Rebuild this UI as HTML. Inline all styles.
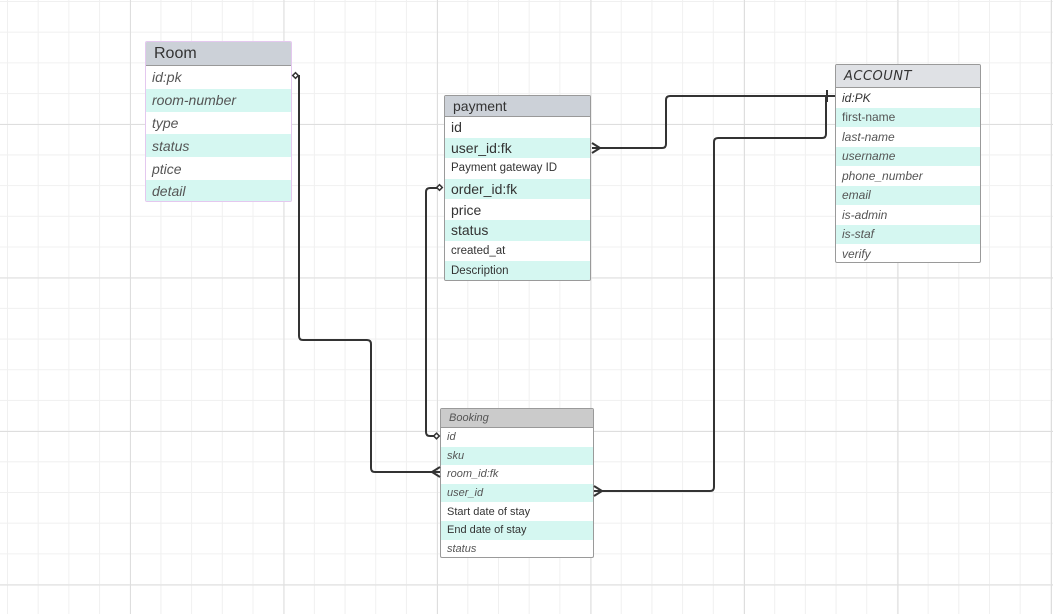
<!DOCTYPE html>
<html><head><meta charset="utf-8"><style>
html,body{margin:0;padding:0}
body{width:1053px;height:614px;position:relative;overflow:hidden;font-family:"Liberation Sans",sans-serif;color:#333;
background-color:#fff;
background-image:linear-gradient(#dedede 1px,transparent 1px),linear-gradient(90deg,#dedede 1px,transparent 1px),linear-gradient(#f0f0f0 1px,transparent 1px),linear-gradient(90deg,#f0f0f0 1px,transparent 1px);
background-size:153.5px 153.5px,153.5px 153.5px,30.7px 30.7px,30.7px 30.7px;
background-position:0 124px,130px 0,0 1px,7px 0;}
.t{position:absolute;border:1px solid #9a9a9a;border-radius:2px;background:#fff;box-sizing:border-box;overflow:hidden}
.h{background:#ccd1d8;border-bottom:1px solid #999;box-sizing:border-box;padding-left:8px;display:flex;align-items:center}
.r{box-sizing:border-box;padding-left:6px;display:flex;align-items:center;white-space:nowrap}
.r:nth-child(odd){background:#d5f7f1}
.i{font-style:italic}
svg{position:absolute;left:0;top:0}
</style></head><body>

<div class="t" style="left:145px;top:41px;width:147px;height:161px;border-color:#e4c8ef">
<div class="h" style="height:24px;font-size:16px">Room</div>
<div class="r i" style="height:22.8px;font-size:14px;color:#555">id:pk</div>
<div class="r i" style="height:22.8px;font-size:14px;color:#555">room-number</div>
<div class="r i" style="height:22.8px;font-size:14px;color:#555">type</div>
<div class="r i" style="height:22.8px;font-size:14px;color:#555">status</div>
<div class="r i" style="height:22.8px;font-size:14px;color:#555">ptice</div>
<div class="r i" style="height:22.8px;font-size:14px;color:#555">detail</div>
</div>

<div class="t" style="left:444px;top:95px;width:147px;height:186px">
<div class="h" style="height:21px;font-size:14px">payment</div>
<div class="r" style="height:20.6px;font-size:14px">id</div>
<div class="r" style="height:20.6px;font-size:14px">user_id:fk</div>
<div class="r" style="height:20.6px;font-size:11.5px">Payment gateway ID</div>
<div class="r" style="height:20.6px;font-size:14px">order_id:fk</div>
<div class="r" style="height:20.6px;font-size:14px">price</div>
<div class="r" style="height:20.6px;font-size:14px">status</div>
<div class="r" style="height:20.6px;font-size:11.5px">created_at</div>
<div class="r" style="height:20.6px;font-size:11.5px">Description</div>
</div>

<div class="t" style="left:835px;top:64px;width:146px;height:199px">
<div class="h" style="height:23px;font-size:13px;font-style:italic;font-family:'DejaVu Sans',sans-serif;letter-spacing:0.5px;background:#dfe1e5">ACCOUNT</div>
<div class="r i" style="height:19.5px;font-size:12px;color:#333">id:PK</div>
<div class="r" style="height:19.5px;font-size:12px;color:#555">first-name</div>
<div class="r i" style="height:19.5px;font-size:12px;color:#555">last-name</div>
<div class="r i" style="height:19.5px;font-size:12px;color:#555">username</div>
<div class="r i" style="height:19.5px;font-size:12px;color:#555">phone_number</div>
<div class="r i" style="height:19.5px;font-size:12px;color:#555">email</div>
<div class="r i" style="height:19.5px;font-size:12px;color:#555">is-admin</div>
<div class="r i" style="height:19.5px;font-size:12px;color:#555">is-staf</div>
<div class="r i" style="height:19.5px;font-size:12px;color:#555">verify</div>
</div>

<div class="t" style="left:440px;top:408px;width:154px;height:150px">
<div class="h" style="height:19px;font-size:11px;font-style:italic;color:#555;background:#cbcbcb">Booking</div>
<div class="r i" style="height:18.6px;font-size:11px;color:#555">id</div>
<div class="r i" style="height:18.6px;font-size:11px;color:#555">sku</div>
<div class="r i" style="height:18.6px;font-size:11px;color:#555">room_id:fk</div>
<div class="r i" style="height:18.6px;font-size:11px;color:#555">user_id</div>
<div class="r" style="height:18.6px;font-size:11px">Start date of stay</div>
<div class="r" style="height:18.6px;font-size:11px">End date of stay</div>
<div class="r i" style="height:18.6px;font-size:11px;color:#555">status</div>
</div>

<svg width="1053" height="614" fill="none" stroke="#333" stroke-width="2">
<path d="M296 76 H299 V336 Q299 340 303 340 H367 Q371 340 371 344 V468 Q371 472 375 472 H440"/>
<path d="M440 467 L432 472 L440 477"/>
<path d="M440 188 H430 Q426 188 426 192 V432 Q426 436 430 436 H436"/>
<path d="M592 148 H662 Q666 148 666 144 V100 Q666 96 670 96 H835"/>
<path d="M592 143 L600 148 L592 153"/>
<path d="M827 90 V102"/>
<path d="M594 491 H710 Q714 491 714 487 V142 Q714 138 718 138 H822 Q826 138 826 134 V96"/>
<path d="M594 486 L602 491 L594 496"/>
<rect x="293.5" y="73.5" width="4" height="4" transform="rotate(45 295.5 75.5)" fill="#fff" stroke-width="1.5"/>
<rect x="437.5" y="185.5" width="4" height="4" transform="rotate(45 439.5 187.5)" fill="#fff" stroke-width="1.5"/>
<rect x="434.5" y="434" width="4" height="4" transform="rotate(45 436.5 436)" fill="#fff" stroke-width="1.5"/>
</svg>
</body></html>
